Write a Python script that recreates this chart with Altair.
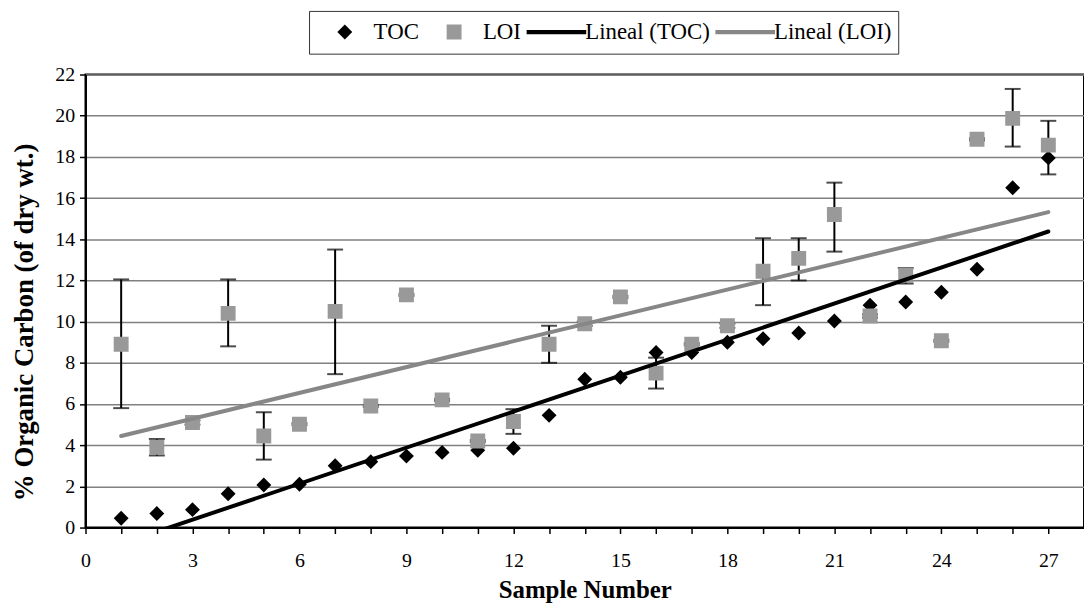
import altair as alt
import pandas as pd

# ---- data ----
sample = list(range(1, 28))
toc = [0.45, 0.68, 0.87, 1.64, 2.07, 2.1, 3.0, 3.2, 3.47, 3.65, 3.75, 3.85, 5.45, 7.2,
       7.3, 8.5, 8.5, 9.0, 9.17, 9.45, 10.03, 10.8, 10.95, 11.43, 12.54, 16.5, 17.95]
loi = [8.9, 3.9, 5.1, 10.4, 4.45, 5.02, 10.5, 5.9, 11.3, 6.2, 4.2, 5.15, 8.9, 9.9,
       11.2, 7.5, 8.9, 9.8, 12.45, 13.07, 15.2, 10.27, 12.25, 9.07, 18.86, 19.87, 18.57]
loi_low = [5.8, 3.5, 5.0, 8.8, 3.3, 4.97, 7.45, 5.85, 11.25, 6.15, 4.15, 4.55, 8.0, 9.8,
           11.15, 6.75, 8.85, 9.7, 10.8, 12.0, 13.4, 10.2, 11.85, 9.02, 18.8, 18.5, 17.15]
loi_high = [12.05, 4.3, 5.2, 12.05, 5.6, 5.07, 13.5, 5.95, 11.35, 6.25, 4.25, 5.75, 9.8, 10.0,
            11.25, 8.25, 8.95, 9.9, 14.05, 14.05, 16.75, 10.35, 12.6, 9.12, 18.9, 21.3, 19.75]

series_names = ["TOC", "LOI", "Lineal (TOC)", "Lineal (LOI)"]
series_colors = ["#000000", "#999999", "#000000", "#878787"]
x_ticks = list(range(0, 28))
y_ticks = list(range(0, 23, 2))

# symbol paths (same extents so legend slots are uniform)
pad_pts = "M-2,0L-2,0M2,0L2,0M0,-1.03L0,-1.03M0,1.03L0,1.03"
diamond = pad_pts + "M0,-0.5L0.5,0L0,0.5L-0.5,0Z"
square = pad_pts + "M-0.5,-0.5L0.5,-0.5L0.5,0.5L-0.5,0.5Z"
line_sym = pad_pts + "M-2,-0.14L2,-0.14L2,0.14L-2,0.14Z"
series_shapes = [diamond, square, line_sym, line_sym]

pts = pd.DataFrame({
    "sample": sample * 2,
    "value": toc + loi,
    "series": ["TOC"] * len(sample) + ["LOI"] * len(sample),
})
err = pd.DataFrame({"sample": sample, "low": loi_low, "high": loi_high})

FONT = "Liberation Serif"

x_scale = alt.Scale(domain=[0, 28], nice=False, zero=False)
y_scale = alt.Scale(domain=[0, 22], nice=False)

x_axis = alt.Axis(
    values=x_ticks, labelExpr="datum.value % 3 === 0 ? datum.label : ''",
    labelOverlap=False, labelFlush=False,
    grid=False, tickSize=6, tickColor="black", tickWidth=1.5,
    domainColor="black", domainWidth=2, labelFont=FONT, labelFontSize=20,
    labelColor="black", labelPadding=17, title="Sample Number",
    titleFont=FONT, titleFontSize=25, titleFontWeight="bold", titleColor="black",
    titlePadding=7,
)
y_axis = alt.Axis(
    values=y_ticks, grid=True, gridColor="#808080", gridWidth=1.5,
    labelOverlap=False, labelFlush=False,
    tickSize=6, tickColor="black", tickWidth=1.5, domainColor="black", domainWidth=2,
    labelFont=FONT, labelFontSize=20, labelColor="black", labelPadding=5,
    title="% Organic Carbon (of dry wt.)", titleFont=FONT, titleFontSize=27,
    titleFontWeight="bold", titleColor="black", titlePadding=16, titleY=249,
)

legend = alt.Legend(
    title=None, orient="none", legendX=225, legendY=-64, direction="horizontal",
    columns=4, columnPadding=5, symbolSize=900, symbolStrokeWidth=0,
    symbolOffset=15, labelOffset=14, labelFont=FONT, labelFontSize=23,
    labelColor="black", strokeColor="#333333", fillColor="white", padding=6,
)

color_scale = alt.Scale(domain=series_names, range=series_colors)
shape_scale = alt.Scale(domain=series_names, range=series_shapes)

X = alt.X("sample:Q", scale=x_scale, axis=x_axis)


def Y(field):
    return alt.Y(field, scale=y_scale, axis=y_axis)


err_rule = alt.Chart(err).mark_rule(color="black", strokeWidth=2).encode(
    x=X, y=Y("low:Q"), y2="high:Q",
)
err_cap_low = alt.Chart(err).mark_tick(color="black", orient="horizontal", size=16, thickness=2).encode(
    x=X, y=Y("low:Q")
)
err_cap_high = alt.Chart(err).mark_tick(color="black", orient="horizontal", size=16, thickness=2).encode(
    x=X, y=Y("high:Q")
)

points = alt.Chart(pts).mark_point(filled=True, size=900, opacity=1, strokeWidth=0).encode(
    x=X, y=Y("value:Q"),
    color=alt.Color("series:N", scale=color_scale, legend=legend),
    shape=alt.Shape("series:N", scale=shape_scale, legend=legend),
)

trend = alt.Chart(pts).transform_regression(
    "sample", "value", groupby=["series"]
).transform_calculate(
    trend="'Lineal (' + datum.series + ')'"
).mark_line(strokeWidth=4, strokeCap="round", clip=True).encode(
    x=X, y=Y("value:Q"),
    color=alt.Color("trend:N", scale=color_scale, legend=None),
    detail="trend:N",
)

chart = alt.layer(err_rule, err_cap_low, err_cap_high, points, trend).properties(
    width=1005, height=456,
    autosize=alt.AutoSizeParams(type="none"),
    padding={"left": 78, "top": 65, "right": 0, "bottom": 77},
    background="white",
).configure(
    font=FONT,
).configure_axis(
    labelFont=FONT, titleFont=FONT,
).configure_legend(
    labelFont=FONT,
).configure_view(stroke="black", strokeWidth=2)

chart.save("out.html", embed_options={"renderer": "svg", "actions": False})
